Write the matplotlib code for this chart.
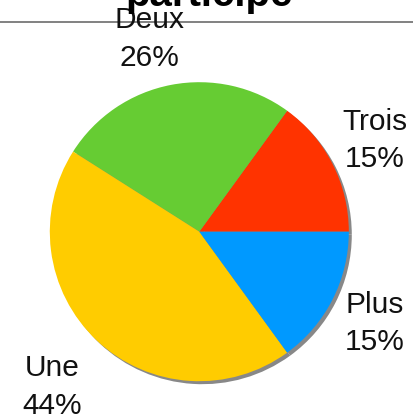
import matplotlib
matplotlib.use("Agg")
import matplotlib.pyplot as plt
from matplotlib.lines import Line2D

plt.rcParams['font.family'] = ['Liberation Sans', 'DejaVu Sans']

# données
categories = ['Trois', 'Deux', 'Une', 'Plus']
values = [15, 26, 44, 15]
colors = ['#FF3300', '#66CC33', '#FFCC00', '#0099FF']
title = 'participe'

# position des étiquettes (unités du camembert)
label_pos = [(1.175, 0.61), (-0.333, 1.288), (-0.982, -1.037), (1.172, -0.614)]

W, H = 414, 417
fig = plt.figure(figsize=(W / 100, H / 100), dpi=100)

cx, cy, r = 199.3, 231.7, 149.5
ax = fig.add_axes([(cx - r) / W, (H - cy - r) / H, 2 * r / W, 2 * r / H])

# ombre grise décalée vers le bas à droite
ax.pie(values, colors=['#888888'] * len(values), startangle=0, radius=1,
       center=(0.02, -0.02), wedgeprops={'linewidth': 0, 'zorder': 0})

total = sum(values)
labels = [f"{c}\n{round(v * 100 / total)}%" for c, v in zip(categories, values)]
wedges, texts = ax.pie(values, labels=labels, colors=colors, startangle=0,
                       counterclock=True, radius=1,
                       wedgeprops={'linewidth': 0, 'zorder': 1},
                       textprops={'fontsize': 21.5, 'color': '#111111',
                                  'linespacing': 1.45})
for t, (x, y) in zip(texts, label_pos):
    t.set_position((x, y))
    t.set_ha('center')
    t.set_va('center')
ax.set_xlim(-1, 1)
ax.set_ylim(-1, 1)
ax.axis('off')

# ligne sous le titre
fig.add_artist(Line2D([0, 1], [1 - 22 / H, 1 - 22 / H], transform=fig.transFigure,
                      color='#777777', lw=1.3, zorder=0))

fig.text(209 / W, 1 - 6 / H, title, ha='center', va='baseline',
         fontsize=29, fontweight='bold', color='#000000')

fig.savefig('out.png', dpi=100)
